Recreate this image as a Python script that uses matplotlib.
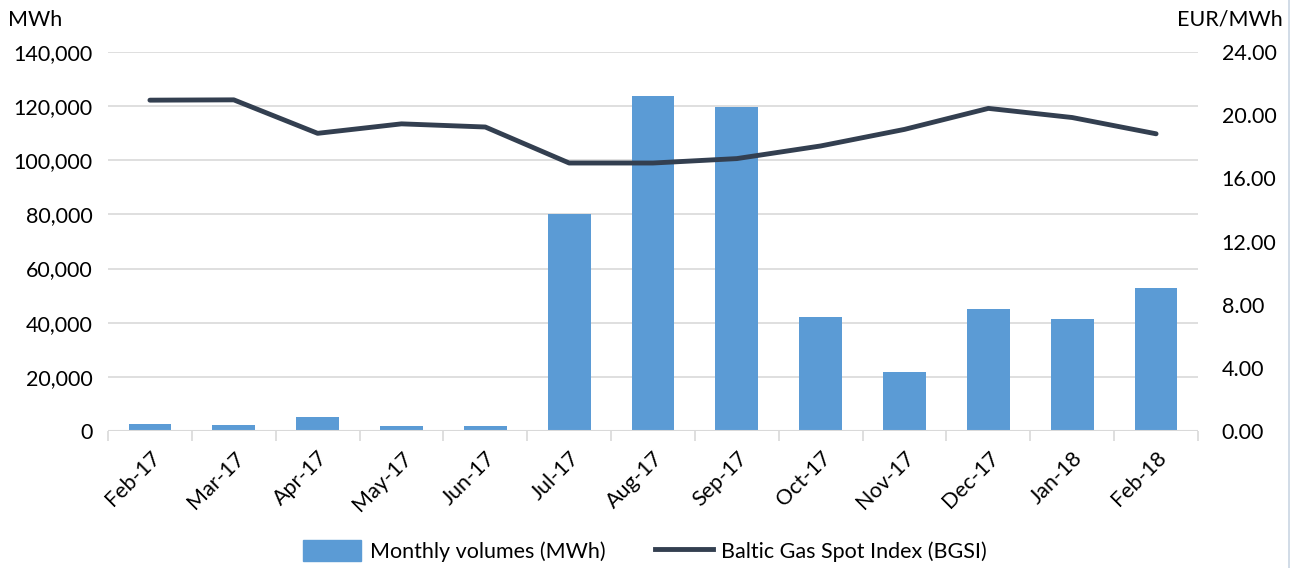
import matplotlib.pyplot as plt
from matplotlib.ticker import FuncFormatter, MultipleLocator
from matplotlib.lines import Line2D

meses = ['Feb-17', 'Mar-17', 'Apr-17', 'May-17', 'Jun-17', 'Jul-17', 'Aug-17',
         'Sep-17', 'Oct-17', 'Nov-17', 'Dec-17', 'Jan-18', 'Feb-18']
volumes = [2500, 2300, 5000, 1900, 1800, 80200, 123800, 119700, 42100, 21800,
           45000, 41400, 52800]
bgsi = [20.95, 20.97, 18.85, 19.45, 19.25, 16.97, 16.97, 17.25, 18.05, 19.10,
        20.43, 19.85, 18.82]

plt.rcParams['font.family'] = ['Lato', 'DejaVu Sans']
fs = 15.5

fig = plt.figure(figsize=(12.97, 5.68), dpi=100)
ax = fig.add_axes([108 / 1297, 1 - 431 / 568, 1090 / 1297, 379 / 568])
ax2 = ax.twinx()

x = range(len(meses))
ax.bar(x, volumes, width=0.51, color='#5B9BD5', zorder=2)
ax2.plot(x, bgsi, color='#333F50', linewidth=3.5, solid_capstyle='round', zorder=3)

ax.set_xlim(-0.5, len(meses) - 0.5)
ax.set_ylim(0, 140000)
ax2.set_ylim(0, 24)
ax.yaxis.set_major_locator(MultipleLocator(20000))
ax2.yaxis.set_major_locator(MultipleLocator(4))
ax.yaxis.set_major_formatter(FuncFormatter(lambda v, p: f'{v:,.0f}'))
ax2.yaxis.set_major_formatter(FuncFormatter(lambda v, p: f'{v:.2f}'))

ax.grid(axis='y', color='#D9D9D9', linewidth=1.2, zorder=0)
ax.set_axisbelow(True)
ax2.set_zorder(ax.get_zorder() + 1)
ax.patch.set_visible(False)

for a in (ax, ax2):
    for s in ['top', 'left', 'right', 'bottom']:
        a.spines[s].set_visible(False)
ax.axhline(0, color='#D9D9D9', linewidth=1.5, zorder=4)

ax.set_xticks(x)
ax.set_xticklabels(meses, rotation=45, ha='right', rotation_mode='anchor')
ax.set_xticks([i - 0.5 for i in range(len(meses) + 1)], minor=True)
ax.tick_params(axis='x', which='major', length=0, labelsize=fs, pad=12)
ax.tick_params(axis='x', which='minor', length=7, color='#D9D9D9', width=1.2)
ax.tick_params(axis='y', length=0, labelsize=fs, pad=11)
ax2.tick_params(axis='y', length=0, labelsize=fs, pad=17)

fig.text(8 / 1297, 1 - 20 / 568, 'MWh', fontsize=fs, va='center', ha='left')
fig.text(1283 / 1297, 1 - 20 / 568, 'EUR/MWh', fontsize=fs, va='center', ha='right')

handles = [plt.Rectangle((0, 0), 1, 1, color='#5B9BD5'),
           Line2D([0], [0], color='#333F50', linewidth=3.5)]
fig.legend(handles, ['Monthly volumes (MWh)', 'Baltic Gas Spot Index (BGSI)'],
           loc='center', bbox_to_anchor=(645 / 1297, 1 - 551 / 568), ncol=2,
           frameon=False, fontsize=fs, handlelength=2.7, handleheight=1.1,
           handletextpad=0.4, columnspacing=2.3)

fig.add_artist(Line2D([1289 / 1297, 1289 / 1297], [0, 1], color='#C9D6E3', linewidth=1.2))

fig.savefig('out.png', dpi=100)
